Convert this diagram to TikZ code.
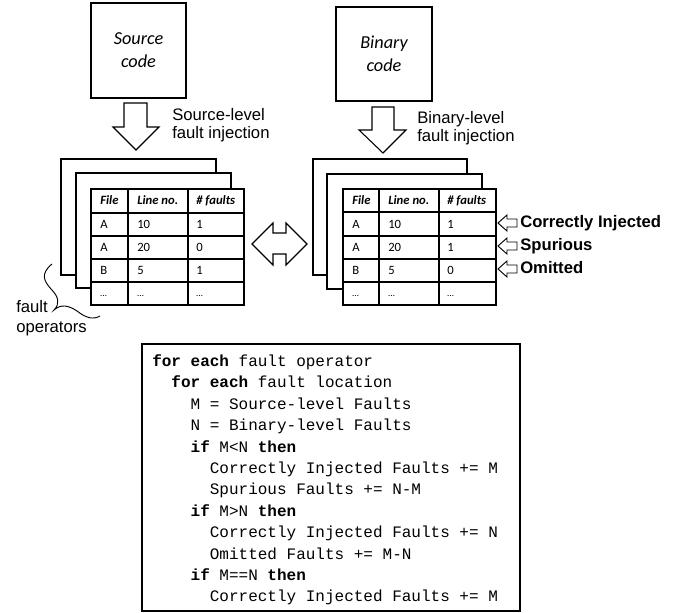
\documentclass[tikz,border=0pt]{standalone}
\usepackage{fontspec}
\setmainfont{Liberation Sans}
\newfontfamily\calibri{Carlito}
\newfontfamily\monofam{Liberation Mono}
\begin{document}
\begin{tikzpicture}[x=0.75pt, y=-0.75pt,
  codebox/.style={draw, line width=0.8pt, fill=white, align=center,
    font=\calibri\itshape\fontsize{13.7}{17.25}\selectfont},
  page/.style={draw, line width=0.9pt, fill=white},
  grid/.style={draw, line width=0.9pt},
  blockarrow/.style={draw, line width=0.8pt, fill=white, line join=miter},
  lbl/.style={anchor=base west, inner sep=0, font=\fontsize{12.5}{14}\selectfont},
  boldlbl/.style={lbl, font=\bfseries\fontsize{12.5}{14}\selectfont},
  cell/.style={anchor=base west, inner sep=0, font=\calibri\fontsize{9.5}{11}\selectfont},
  hcell/.style={cell, font=\calibri\bfseries\itshape\fontsize{9.5}{11}\selectfont},
  codeline/.style={anchor=base west, inner sep=0, font=\monofam\fontsize{12}{14}\selectfont},
  pseudo/.style={draw, line width=1.5pt, fill=white}
]
\useasboundingbox (0,0) rectangle (683,613);

% ---------- inputs ----------
\node[codebox, minimum width=71.25pt, minimum height=71.25pt] (src) at (138.5,50.5) {Source\\code};
\node[codebox, minimum width=72pt, minimum height=70.5pt] (bin) at (384,54) {Binary\\code};

% ---------- injection arrows ----------
\draw[blockarrow] (124,103) -- (147,103) -- (147,127) -- (159,127) -- (136,150)
  -- (113,127) -- (124,127) -- cycle;
\draw[blockarrow] (372,107) -- (394,107) -- (394,130) -- (406,130) -- (383,153)
  -- (359,130) -- (372,130) -- cycle;
\node[lbl] (srcl1) at (172,121) {Source-level};
\node[lbl] (srcl2) at (172,139) {fault injection};
\node[lbl] (binl1) at (417,124) {Binary-level};
\node[lbl] (binl2) at (417,142) {fault injection};

% ---------- left stack of fault tables ----------
\draw[page] (61,159) rectangle (216,275);
\draw[page] (76,173) rectangle (231,288);
\draw[page] (91,189) rectangle (244,305);
\foreach \yy in {213,236,259,282} \draw[grid] (91,\yy) -- (244,\yy);
\foreach \xx in {128,188} \draw[grid] (\xx,189) -- (\xx,305);
\node[hcell] (lh1) at (100,205) {File};
\node[hcell] (lh2) at (137,205) {Line no.};
\node[hcell] (lh3) at (196,205) {\# faults};
\node[cell] (la1) at (100,228.5) {A};  \node[cell] (lb1) at (137,228.5) {10}; \node[cell] (lc1) at (196,228.5) {1};
\node[cell] (la2) at (100,251.5) {A};  \node[cell] (lb2) at (137,251.5) {20}; \node[cell] (lc2) at (196,251.5) {0};
\node[cell] (la3) at (100,274.5) {B};  \node[cell] (lb3) at (137,274.5) {5};  \node[cell] (lc3) at (196,274.5) {1};
\node[cell, font=\calibri\fontsize{7}{8}\selectfont] (la4) at (100,296.5) {\ldots};
\node[cell, font=\calibri\fontsize{7}{8}\selectfont] (lb4) at (137,296.5) {\ldots};
\node[cell, font=\calibri\fontsize{7}{8}\selectfont] (lc4) at (196,296.5) {\ldots};

% ---------- right stack of fault tables ----------
\draw[page] (313,159) rectangle (467,275);
\draw[page] (327,174) rectangle (482,289);
\draw[page] (343,189) rectangle (496,305);
\foreach \yy in {212,236,259,282} \draw[grid] (343,\yy) -- (496,\yy);
\foreach \xx in {379,439} \draw[grid] (\xx,189) -- (\xx,305);
\node[hcell] (rh1) at (352,205) {File};
\node[hcell] (rh2) at (388,205) {Line no.};
\node[hcell] (rh3) at (447,205) {\# faults};
\node[cell] (ra1) at (352,228.5) {A};  \node[cell] (rb1) at (388,228.5) {10}; \node[cell] (rc1) at (447,228.5) {1};
\node[cell] (ra2) at (352,251.5) {A};  \node[cell] (rb2) at (388,251.5) {20}; \node[cell] (rc2) at (447,251.5) {1};
\node[cell] (ra3) at (352,274.5) {B};  \node[cell] (rb3) at (388,274.5) {5};  \node[cell] (rc3) at (447,274.5) {0};
\node[cell, font=\calibri\fontsize{7}{8}\selectfont] (ra4) at (352,296.5) {\ldots};
\node[cell, font=\calibri\fontsize{7}{8}\selectfont] (rb4) at (388,296.5) {\ldots};
\node[cell, font=\calibri\fontsize{7}{8}\selectfont] (rc4) at (447,296.5) {\ldots};

% ---------- comparison arrow ----------
\draw[blockarrow] (252,244) -- (273,223) -- (273,233) -- (286,233) -- (286,223)
  -- (307,244) -- (286,265) -- (286,254) -- (273,254) -- (273,265) -- cycle;

% ---------- classification marks ----------
\foreach \cy/\nm in {223/mk1,246/mk2,269/mk3}
  \draw[blockarrow, line width=0.7pt] (498,\cy) -- (507,\cy-8) -- (507,\cy-4) -- (517,\cy-4)
    -- (517,\cy+4) -- (507,\cy+4) -- (507,\cy+8) -- cycle;
\node[boldlbl] (ok)  at (520,228) {Correctly Injected};
\node[boldlbl] (spu) at (520,251) {Spurious};
\node[boldlbl] (omi) at (520,274) {Omitted};

% ---------- fault operators brace ----------
\draw[line width=0.7pt] (52,264) .. controls (40,274) and (44,281) .. (51,289)
  .. controls (59,297) and (60,304) .. (54,310)
  .. controls (61,304) and (68,305) .. (77,311)
  .. controls (86,318) and (93,320) .. (100,316);
\node[lbl] (fop1) at (16,313) {fault};
\node[lbl] (fop2) at (16,333) {operators};

% ---------- pseudo-code ----------
\node[pseudo, minimum width=283.5pt, minimum height=200.25pt] (code) at (331,477.5) {};
\def\cx{152}
\def\cw{9.6}
\node[codeline] (c1)  at (\cx+0*\cw, 366.5+0*21.4)  {\textbf{for each} fault operator};
\node[codeline] (c2)  at (\cx+2*\cw, 366.5+1*21.4)  {\textbf{for each} fault location};
\node[codeline] (c3)  at (\cx+4*\cw, 366.5+2*21.4)  {M = Source-level Faults};
\node[codeline] (c4)  at (\cx+4*\cw, 366.5+3*21.4)  {N = Binary-level Faults};
\node[codeline] (c5)  at (\cx+4*\cw, 366.5+4*21.4)  {\textbf{if} M<N \textbf{then}};
\node[codeline] (c6)  at (\cx+6*\cw, 366.5+5*21.4)  {Correctly Injected Faults += M};
\node[codeline] (c7)  at (\cx+6*\cw, 366.5+6*21.4)  {Spurious Faults += N-M};
\node[codeline] (c8)  at (\cx+4*\cw, 366.5+7*21.4)  {\textbf{if} M>N \textbf{then}};
\node[codeline] (c9)  at (\cx+6*\cw, 366.5+8*21.4)  {Correctly Injected Faults += N};
\node[codeline] (c10) at (\cx+6*\cw, 366.5+9*21.4)  {Omitted Faults += M-N};
\node[codeline] (c11) at (\cx+4*\cw, 366.5+10*21.4) {\textbf{if} M==N \textbf{then}};
\node[codeline] (c12) at (\cx+6*\cw, 366.5+11*21.4) {Correctly Injected Faults += M};
\end{tikzpicture}
\end{document}
